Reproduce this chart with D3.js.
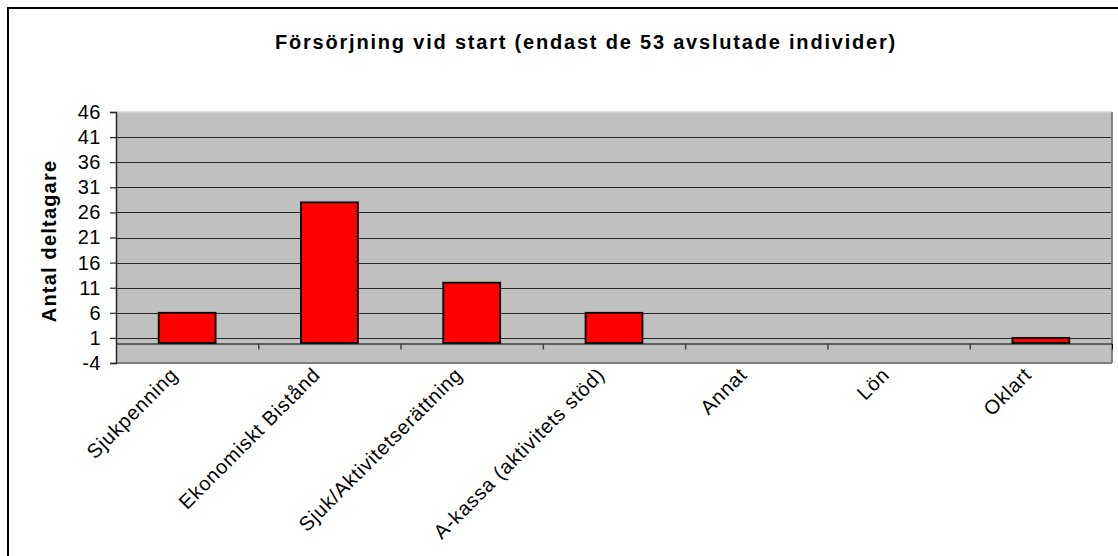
<!DOCTYPE html>
<html>
<head>
<meta charset="utf-8">
<script src="https://cdn.jsdelivr.net/npm/d3@7"></script>
<style>
  body { margin: 0; background: #fff; }
  text { font-family: Arial, "Liberation Sans", sans-serif; fill: #000; }
</style>
</head>
<body>
<div id="chart"></div>
<script>
// Försörjning vid start - stapeldiagram

var categories = ["Sjukpenning", "Ekonomiskt Bistånd", "Sjuk/Aktivitetserättning",
  "A-kassa (aktivitets stöd)", "Annat", "Lön", "Oklart"];
var values = [6, 28, 12, 6, 0, 0, 1];
var yTicks = [-4, 1, 6, 11, 16, 21, 26, 31, 36, 41, 46];
var chartTitle = "Försörjning vid start (endast de 53 avslutade individer)";
var yTitle = "Antal deltagare";

var svgWidth = 1118;
var svgHeight = 556;

// plot area
var plot = { left: 116, right: 1112, top: 112, bottom: 363 };

var svg = d3.select("#chart")
  .append("svg")
  .attr("width", svgWidth)
  .attr("height", svgHeight);

// outer frame (right/bottom edges fall outside the picture)
svg.append("rect")
  .attr("x", 8).attr("y", 8)
  .attr("width", 1160).attr("height", 620)
  .attr("fill", "#fff")
  .attr("stroke", "#000")
  .attr("stroke-width", 2);

// scales
var x = d3.scaleBand()
  .domain(categories)
  .range([plot.left, plot.right])
  .padding(0);

var xEdge = d3.scaleLinear()
  .domain([0, categories.length])
  .range([plot.left, plot.right]);

var y = d3.scaleLinear()
  .domain([-4, 46])
  .range([plot.bottom, plot.top]);

// plot background
svg.append("rect")
  .attr("x", plot.left)
  .attr("y", plot.top)
  .attr("width", plot.right - plot.left)
  .attr("height", plot.bottom - plot.top)
  .attr("fill", "#c0c0c0");

// gridlines
svg.append("g")
  .selectAll("line")
  .data(yTicks.slice(1, -1))
  .enter()
  .append("line")
  .attr("x1", plot.left)
  .attr("x2", plot.right)
  .attr("y1", d => Math.round(y(d)) + 0.5)
  .attr("y2", d => Math.round(y(d)) + 0.5)
  .attr("stroke", "#262626")
  .attr("stroke-width", 1);

// plot border
svg.append("line")
  .attr("x1", plot.left).attr("x2", plot.right)
  .attr("y1", plot.top).attr("y2", plot.top)
  .attr("stroke", "#d4d4d4").attr("stroke-width", 1.5);
svg.append("line")
  .attr("x1", plot.right).attr("x2", plot.right)
  .attr("y1", plot.top).attr("y2", plot.bottom)
  .attr("stroke", "#808080").attr("stroke-width", 2);
svg.append("line")
  .attr("x1", plot.left).attr("x2", plot.right)
  .attr("y1", plot.bottom).attr("y2", plot.bottom)
  .attr("stroke", "#808080").attr("stroke-width", 2);

// bars
var barW = x.bandwidth() / 2.5;
svg.append("g")
  .selectAll("rect")
  .data(values.map((v, i) => ({ cat: categories[i], v: v })).filter(d => d.v > 0))
  .enter()
  .append("rect")
  .attr("x", d => x(d.cat) + (x.bandwidth() - barW) / 2)
  .attr("y", d => y(d.v))
  .attr("width", barW)
  .attr("height", d => y(0) - y(d.v))
  .attr("fill", "#ff0000")
  .attr("stroke", "#000")
  .attr("stroke-width", 1.8);

// x axis on the zero line
var bottomAxis = d3.axisBottom(xEdge)
  .tickValues(d3.range(1, categories.length))
  .tickSize(6)
  .tickFormat("");
var xAxisG = svg.append("g")
  .attr("transform", `translate(0, ${Math.round(y(0)) + 0.5})`)
  .call(bottomAxis);
xAxisG.select(".domain").attr("stroke", "#000").attr("stroke-width", 1);
xAxisG.selectAll(".tick line").attr("stroke", "#404040").attr("stroke-width", 1.5);

// y axis
var leftAxis = d3.axisLeft(y)
  .tickValues(yTicks)
  .tickSize(6)
  .tickPadding(9)
  .tickFormat(d => String(d));
var yAxisG = svg.append("g")
  .attr("transform", `translate(${plot.left}, 0)`)
  .call(leftAxis);
yAxisG.select(".domain").attr("stroke", "#262626").attr("stroke-width", 1.5);
yAxisG.selectAll(".tick line").attr("stroke", "#262626").attr("stroke-width", 1.2);
yAxisG.selectAll(".tick text")
  .style("font-family", "Arial, 'Liberation Sans', sans-serif")
  .style("font-size", "20px")
  .style("letter-spacing", "0.5px")
  .attr("fill", "#000");

// x labels, rotated
svg.append("g")
  .selectAll("text")
  .data(categories)
  .enter()
  .append("text")
  .attr("transform", d => `translate(${x(d) + x.bandwidth() / 2 - 8}, ${plot.bottom + 13}) rotate(-45)`)
  .attr("text-anchor", "end")
  .style("font-size", "20px")
  .style("letter-spacing", "0.8px")
  .text(d => d);

// titles
svg.append("text")
  .attr("x", 586)
  .attr("y", 49)
  .attr("text-anchor", "middle")
  .style("font-size", "20px")
  .style("font-weight", "bold")
  .style("letter-spacing", "1.8px")
  .text(chartTitle);

svg.append("text")
  .attr("transform", "translate(56, 241) rotate(-90)")
  .attr("text-anchor", "middle")
  .style("font-size", "20px")
  .style("font-weight", "bold")
  .style("letter-spacing", "1.2px")
  .text(yTitle);
</script>
</body>
</html>
